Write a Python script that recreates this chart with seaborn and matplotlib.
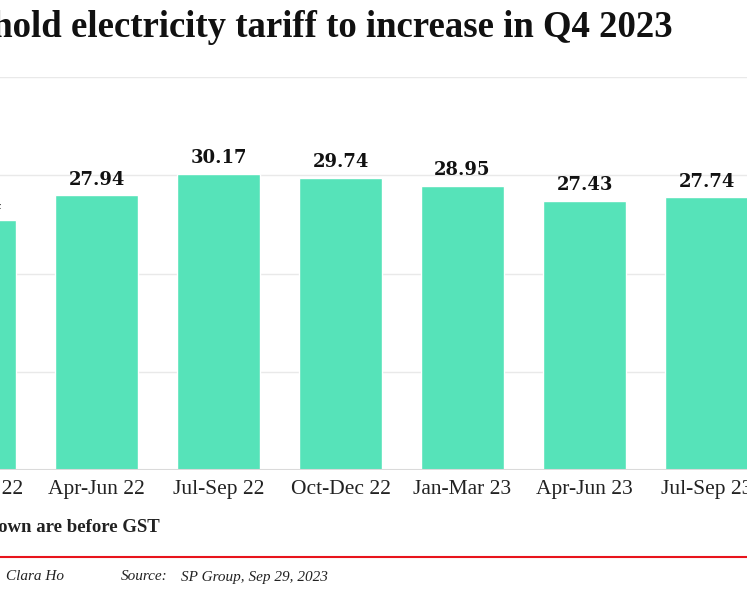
import matplotlib
matplotlib.use("Agg")
import matplotlib.pyplot as plt
import seaborn as sns
import pandas as pd
from matplotlib.lines import Line2D

quarters = ["Jan-Mar 22", "Apr-Jun 22", "Jul-Sep 22", "Oct-Dec 22",
            "Jan-Mar 23", "Apr-Jun 23", "Jul-Sep 23"]
tariff = [25.44, 27.94, 30.17, 29.74, 28.95, 27.43, 27.74]
y_ticks = [0, 10, 20, 30, 40]

df = pd.DataFrame({"quarter": quarters, "tariff": tariff})

sns.set_theme(style="white")
plt.rcParams["font.family"] = ["Liberation Serif", "DejaVu Serif"]

W, H = 747, 598
EXT = 150  # axes extend beyond the visible crop on both sides
fig = plt.figure(figsize=(W / 100, H / 100), dpi=100)
ax = fig.add_axes([-EXT / W, 1 - 470 / H, (W + 2 * EXT) / W, (470 - 77) / H])

bar_color = "#56e3b9"
sns.barplot(data=df, x="quarter", y="tariff", color=bar_color, width=0.68,
            saturation=1, ax=ax, zorder=3)

ax.set_ylim(0, 40)
ax.set_xlim((-EXT + 25.5) / 122, (W + EXT + 25.5) / 122)
ax.set_yticks(y_ticks)
ax.yaxis.grid(True, color="#e9e9e9", lw=1, zorder=0)
ax.set_axisbelow(True)
ax.tick_params(axis="y", left=False, labelleft=False)
ax.tick_params(axis="x", length=0, pad=7, labelsize=15.5, labelcolor="#222222")
ax.set_xlabel("")
ax.set_ylabel("")
for s in ax.spines.values():
    s.set_visible(False)
ax.axhline(0, color="#dadada", lw=1.5, zorder=4)

for c in ax.containers:
    ax.bar_label(c, fmt="%.2f", padding=5, fontsize=13, fontweight="bold",
                 color="#111111", family=["DejaVu Serif"], annotation_clip=False)

fig.text(673 / W, 1 - 37 / H, "Household electricity tariff to increase in Q4 2023",
         ha="right", va="baseline", fontsize=26.5, fontweight="bold", color="#111111")

fig.text(160 / W, 1 - 527 / H, "Note: Tariffs shown are before GST",
         ha="right", va="center", fontsize=13.5, fontweight="bold", color="#222222")

fig.add_artist(Line2D([0, 1], [1 - 557 / H, 1 - 557 / H], transform=fig.transFigure,
                      color="#e8141c", lw=1.5))

fig.text(6 / W, 1 - 577 / H, "Clara Ho", ha="left", va="center", fontsize=11,
         style="italic", color="#222222")
fig.text(121 / W, 1 - 577 / H, "Source:", ha="left", va="center", fontsize=11,
         style="italic", color="#222222")
fig.text(181 / W, 1 - 577 / H, "SP Group, Sep 29, 2023", ha="left", va="center",
         fontsize=11, style="italic", color="#222222")

fig.savefig("out.png", dpi=100)
